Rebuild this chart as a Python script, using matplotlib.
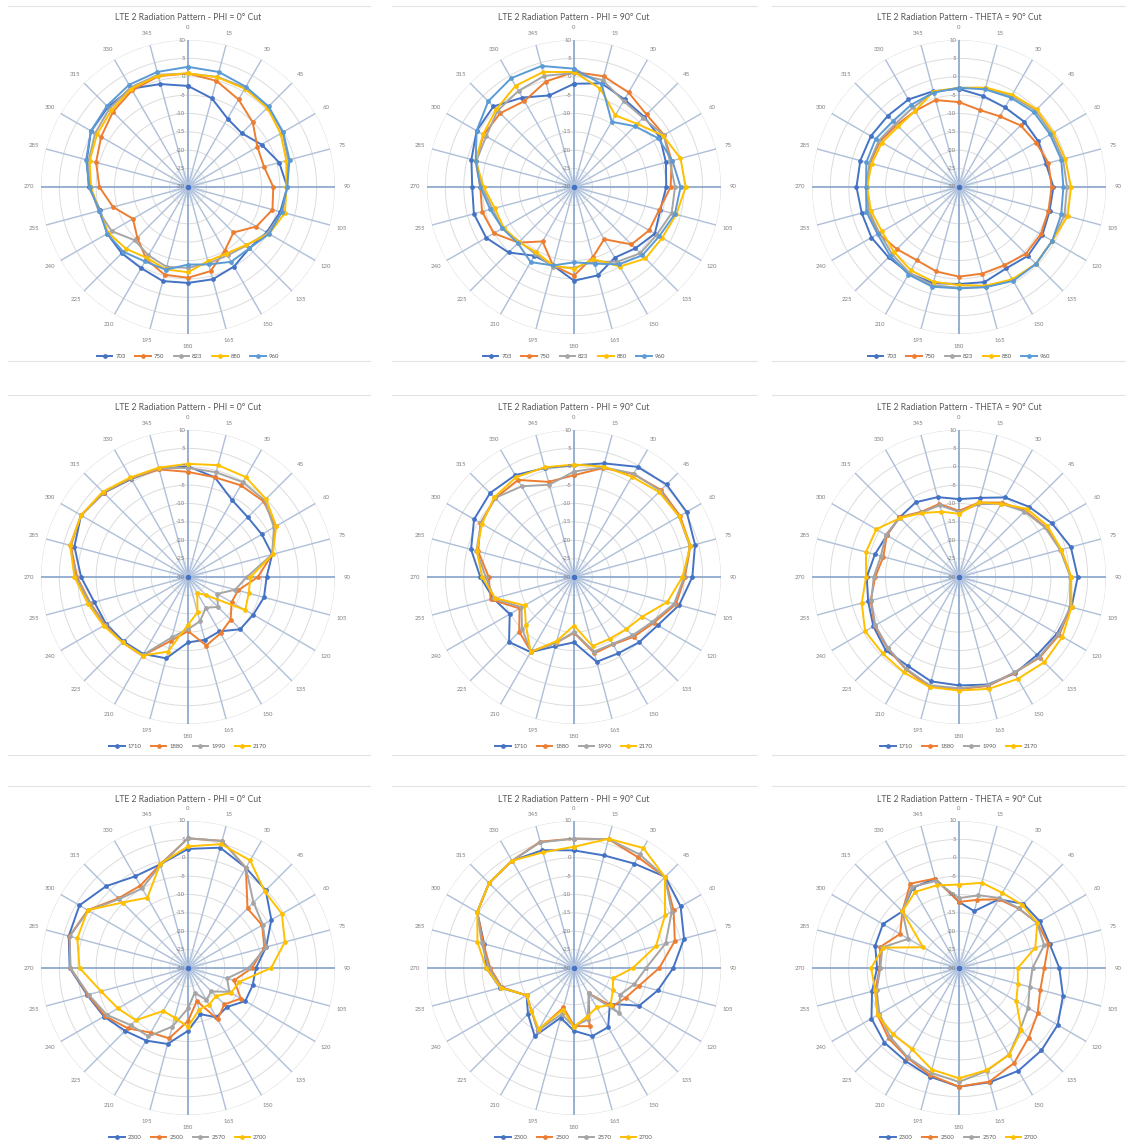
import numpy as np
import matplotlib.pyplot as plt
from matplotlib.lines import Line2D

plt.rcParams['font.family'] = ['Lato', 'DejaVu Sans']

# ---- data (dB, one value per 15 degrees, 0..345) ----
angles = list(range(0, 360, 15))
ring_values = [-30, -25, -20, -15, -10, -5, 0, 5, 10]
ring_labels = ["-30", "-25", "-20", "-15", "-10", "-5", "0", "5", "10"]

bands_low = ["703", "750", "823", "880", "960"]
bands_mid = ["1710", "1880", "1990", "2170"]
bands_high = ["2300", "2500", "2570", "2700"]

titles = ["LTE 2 Radiation Pattern - PHI = 0° Cut",
          "LTE 2 Radiation Pattern - PHI = 90° Cut",
          "LTE 2 Radiation Pattern - THETA = 90° Cut"]

phi0_low = [
    [-2.5, -5.0, -8.5, -9.3, -6.9, -4.3, -3.0, -4.0, -5.3, -6.4, -5.0, -4.0,
     -3.9, -3.5, -4.5, -4.5, -4.6, -5.3, -3.0, -1.5, 0.5, 0.8, 0.9, -1.0],
    [0.9, -0.1, -2.5, -5.1, -8.2, -8.6, -6.8, -6.2, -8.5, -12.5, -10.0, -6.3,
     -5.3, -5.3, -7.3, -10.5, -12.7, -8.9, -5.9, -4.1, -2.7, -1.1, 0.4, 1.2],
    [0.9, 1.0, 1.2, 0.9, -0.3, -1.8, -3.0, -3.5, -5.0, -7.5, -8.5, -8.5,
     -8.0, -7.5, -8.5, -9.5, -6.0, -4.8, -3.4, -2.0, -0.8, 0.2, 1.3, 1.6],
    [0.9, 0.9, 0.9, 0.5, -0.9, -2.3, -3.2, -2.7, -4.5, -7.7, -9.1, -9.1,
     -6.8, -6.8, -7.7, -6.2, -5.0, -5.0, -3.6, -2.3, -1.4, -0.5, 0.9, 1.4],
    [2.7, 2.4, 1.5, 1.0, -0.1, -1.4, -3.0, -3.6, -4.5, -6.4, -6.5, -8.2,
     -8.9, -6.7, -6.6, -5.1, -4.6, -5.0, -3.2, -1.3, 0.5, 1.2, 2.1, 2.4],
]
phi90_low = [
    [-1.9, -0.8, -2.5, -3.0, -3.0, -4.1, -4.9, -5.7, -4.6, -6.4, -7.8, -5.1,
     -4.5, -7.9, -8.4, -4.8, -2.4, -1.8, -2.3, -1.1, 0.6, 1.0, -1.9, -4.2],
    [1.3, 1.2, -0.3, -2.1, -1.7, -2.5, -3.7, -6.0, -6.4, -7.9, -13.6, -10.2,
     -5.9, -7.9, -12.9, -8.6, -4.8, -4.1, -4.5, -2.3, -1.6, -1.6, -3.0, -0.3],
    [1.0, 0.1, -3.0, -3.4, -1.8, -3.0, -2.5, -2.5, -4.0, -4.5, -6.5, -9.0,
     -8.0, -7.5, -9.0, -9.0, -7.5, -7.0, -5.0, -2.5, -2.4, -0.6, 0.2, 1.3],
    [1.3, -2.3, -7.5, -5.7, -2.0, 0.0, 0.4, -1.2, -2.3, -2.5, -5.0, -9.7,
     -7.7, -7.9, -9.5, -8.8, -7.9, -7.7, -5.4, -2.3, -1.4, -0.1, 1.8, 2.4],
    [2.2, -1.0, -9.5, -6.6, -3.5, -2.3, -1.0, -1.6, -3.2, -3.7, -5.7, -8.4,
     -9.5, -7.9, -6.4, -8.4, -7.5, -6.4, -4.5, -2.3, 0.6, 3.0, 4.2, 4.1],
]
theta90_low = [
    [-3.3, -4.4, -5.0, -4.9, -5.1, -5.5, -4.3, -4.5, -3.8, -3.5, -4.4, -3.2,
     -3.6, -2.9, -2.9, -2.9, -2.5, -2.6, -2.1, -2.2, -2.3, -2.6, -2.5, -3.0],
    [-6.9, -8.3, -7.8, -6.3, -5.8, -4.8, -4.8, -4.8, -4.3, -4.3, -5.4, -5.6,
     -5.6, -6.2, -7.0, -6.1, -4.7, -4.5, -5.0, -4.9, -5.2, -6.1, -6.1, -5.5],
    [-3.0, -2.2, -1.4, -0.6, -0.9, -0.7, -0.6, -0.3, -0.7, -0.4, -0.8, -1.8,
     -2.6, -2.3, -3.0, -4.2, -5.0, -4.6, -4.9, -4.7, -4.8, -5.6, -5.0, -3.3],
    [-3.0, -2.0, -1.0, -0.1, -0.4, -0.1, 0.5, 0.6, -0.7, -0.4, -1.0, -2.2,
     -3.3, -3.3, -3.8, -5.0, -5.8, -5.2, -5.0, -5.4, -5.8, -6.7, -6.1, -3.1],
    [-3.0, -2.5, -1.9, -1.2, -1.4, -1.2, -1.6, -1.2, -0.7, -0.4, -0.5, -1.8,
     -2.4, -1.9, -2.5, -3.5, -4.4, -3.9, -4.7, -3.9, -3.8, -4.6, -4.1, -3.4],
]

phi0_mid = [
    [0.1, -1.9, -5.9, -7.0, -6.8, -6.3, -8.6, -8.6, -9.5, -9.9, -12.9, -12.3,
     -12.2, -7.1, -5.8, -5.2, -4.3, -3.6, -0.9, 2.0, 3.6, 2.4, 0.8, 0.5],
    [-1.4, -1.9, -1.2, -0.9, -2.5, -6.3, -11.0, -15.9, -16.3, -13.6, -12.3, -10.7,
     -15.3, -12.0, -5.3, -4.8, -4.0, -2.5, 0.2, 3.0, 3.6, 2.5, 1.0, 0.3],
    [-0.3, -0.5, -0.2, -0.5, -3.0, -6.3, -14.0, -16.7, -20.8, -18.5, -20.3, -17.5,
     -15.8, -13.0, -5.5, -4.8, -3.8, -2.3, 0.5, 3.2, 3.6, 2.6, 1.1, 0.6],
    [0.8, 1.5, 1.4, 0.0, -2.3, -6.1, -13.0, -12.9, -12.0, -23.0, -25.0, -20.0,
     -17.0, -9.0, -5.3, -4.8, -3.5, -1.8, 0.9, 3.2, 3.6, 2.8, 1.3, 0.8],
]
phi90_mid = [
    [0.4, 2.0, 4.6, 5.6, 5.4, 4.1, 2.2, -0.4, -3.7, -4.9, -6.0, -6.1,
     -12.2, -10.5, -6.4, -5.0, -9.8, -7.3, -4.5, -1.0, 1.4, 2.3, 2.0, 0.7],
    [-2.3, 0.7, 2.3, 3.5, 3.3, 2.8, 0.2, -1.3, -5.0, -7.0, -8.8, -8.5,
     -14.8, -11.5, -6.6, -8.9, -12.9, -6.5, -6.8, -3.0, -0.6, 0.3, 0.5, -3.2],
    [-1.3, 0.9, 2.5, 3.2, 3.0, 2.6, 0.0, -1.8, -5.5, -7.5, -9.0, -9.0,
     -15.0, -11.5, -6.6, -10.0, -13.5, -7.5, -6.0, -2.5, -0.8, 0.4, -1.5, -4.0],
    [0.6, 1.1, 1.5, 2.7, 3.0, 2.8, -0.5, -3.7, -8.5, -9.9, -10.6, -10.5,
     -16.8, -12.0, -6.4, -11.5, -14.5, -7.8, -5.0, -2.6, -1.1, 0.7, 1.4, 0.9],
]
theta90_mid = [
    [-8.8, -7.7, -5.0, -3.0, -0.8, 1.5, 2.3, 1.7, 0.8, 0.0, 0.3, 0.3,
     -0.5, -0.6, -2.1, -1.8, -3.1, -4.4, -4.9, -6.3, -7.3, -7.1, -6.5, -7.5],
    [-12.0, -9.0, -6.6, -4.5, -2.8, -1.2, 0.5, 1.5, 1.5, 1.0, 0.1, 0.7,
     0.5, 0.9, -1.0, -2.5, -3.5, -5.1, -7.2, -8.7, -7.3, -7.0, -9.5, -9.4],
    [-12.3, -9.5, -7.0, -4.8, -3.0, -1.5, 0.3, 1.3, 1.2, 0.8, 0.0, 0.5,
     0.3, 0.6, -1.2, -2.7, -3.7, -5.3, -6.8, -8.0, -7.0, -7.2, -9.7, -9.8],
    [-12.8, -9.0, -7.0, -3.8, -2.2, -1.2, 0.5, 1.7, 2.5, 2.8, 2.0, 1.5,
     0.9, 1.0, 0.0, -0.6, -0.5, -2.6, -4.7, -3.8, -4.0, -7.3, -9.9, -11.6],
]

phi0_high = [
    [2.4, 3.9, 1.5, -0.1, -3.8, -8.0, -11.5, -11.8, -12.0, -15.0, -14.5, -17.0,
     -12.9, -8.6, -7.2, -5.8, -3.6, -1.6, 2.2, 3.6, 4.1, 1.5, -1.2, -0.8],
    [5.3, 5.8, 1.5, -7.1, -6.7, -8.5, -12.6, -17.0, -13.4, -16.0, -13.9, -20.7,
     -15.6, -10.2, -9.7, -6.8, -3.9, -1.8, 2.0, 3.4, 1.5, -3.2, -4.1, -0.8],
    [5.3, 5.8, 1.5, -4.8, -6.5, -8.0, -13.5, -19.0, -17.0, -21.0, -20.0, -23.0,
     -19.0, -13.5, -8.5, -8.0, -4.5, -2.0, 2.0, 3.3, 1.3, -3.5, -5.0, -1.0],
    [3.1, 4.9, 3.8, -0.5, -0.5, -2.7, -7.4, -15.5, -16.5, -19.2, -18.5, -18.3,
     -14.0, -16.0, -16.5, -9.9, -8.0, -5.5, -0.5, 1.2, 1.5, -4.8, -7.9, -0.7],
]
phi90_high = [
    [2.0, 1.7, 2.8, 5.1, 3.5, 1.0, -3.0, -6.4, -9.5, -16.2, -11.4, -10.8,
     -12.9, -16.0, -8.6, -12.3, -15.1, -9.2, -6.1, -4.7, 0.4, 2.7, 3.7, 3.2],
    [5.2, 6.3, 4.8, 5.0, 1.3, -1.6, -6.8, -11.6, -13.8, -15.2, -22.0, -13.6,
     -14.2, -18.9, -10.3, -13.6, -15.1, -9.7, -7.2, -4.5, 0.4, 2.7, 3.7, 5.6],
    [5.2, 6.3, 5.7, 5.0, 0.7, -4.2, -10.4, -13.0, -15.5, -12.6, -22.0, -15.6,
     -14.0, -17.0, -10.3, -13.6, -15.1, -9.5, -6.8, -4.0, 0.4, 2.7, 3.7, 5.4],
    [3.0, 6.4, 7.7, 5.0, -1.4, -6.9, -14.0, -19.0, -17.8, -15.9, -17.6, -16.3,
     -14.0, -18.3, -10.8, -13.6, -15.1, -9.3, -6.1, -2.8, 0.4, 2.7, 3.7, 2.6],
]
theta90_high = [
    [-12.0, -14.0, -8.4, -5.3, -4.6, -4.5, -2.7, -0.7, 1.0, 1.7, 2.3, 2.2,
     2.3, 0.6, -0.8, -1.3, -2.5, -5.5, -7.7, -6.4, -6.1, -8.2, -4.8, -4.8],
    [-12.0, -10.8, -8.4, -7.1, -5.4, -4.8, -6.8, -7.1, -5.3, -3.2, -0.1, 2.0,
     2.3, 0.2, -1.8, -2.9, -4.4, -6.4, -8.4, -7.8, -11.5, -8.2, -3.5, -4.8],
    [-11.0, -9.5, -8.0, -7.0, -5.5, -6.0, -10.0, -10.1, -8.3, -6.4, -2.8, -1.0,
     1.0, -0.5, -2.0, -3.5, -5.0, -6.8, -8.6, -8.4, -14.1, -8.2, -4.5, -5.5],
    [-7.3, -6.0, -6.4, -5.7, -5.4, -8.5, -14.0, -13.4, -12.0, -6.0, -2.7, -1.2,
     0.0, -1.4, -4.5, -4.5, -4.4, -6.4, -6.1, -8.6, -18.7, -8.2, -6.1, -6.7],
]

colors = ["#4472C4", "#ED7D31", "#A5A5A5", "#FFC000", "#5B9BD5"]

W, H = 1132, 1144
fig = plt.figure(figsize=(W / 100, H / 100), dpi=100)
fig.patch.set_facecolor('white')

R = 147
col_x = [188, 574, 959]
row_y = [187, 577, 968]


def radar(cx, cy, title, bands, series):
    ax = fig.add_axes([(cx - R) / W, 1 - (cy + R) / H, 2 * R / W, 2 * R / H],
                      projection='polar')
    ax.set_theta_zero_location('N')
    ax.set_theta_direction(-1)
    ax.set_ylim(-30, 10)
    ax.grid(False)
    ax.set_xticks([])
    ax.set_yticks([])
    ax.spines['polar'].set_visible(False)
    ax.patch.set_alpha(0)

    t = np.linspace(0, 2 * np.pi, 361)
    for r in ring_values[1:]:
        ax.plot(t, np.full_like(t, r), color='#DCDCDC', lw=0.7, zorder=1)
    for a in angles:
        main = a % 90 == 0
        ax.plot([np.radians(a)] * 2, [-30, 10.8 if main else 10],
                color='#8FA9CF' if main else '#AEBFD8',
                lw=1.3 if main else 1.0, zorder=2)
    # fine sunburst at the centre
    for a in range(0, 360, 10):
        ax.plot([np.radians(a)] * 2, [-30, -25.5], color='#B4C6E4', lw=0.3,
                zorder=2)
    ax.plot([0], [-30], 'o', color='#4472C4', ms=3.0, zorder=3)

    th = np.radians(angles + [angles[0]])
    for vals, col, lab in zip(series, colors, bands):
        ax.plot(th, vals + [vals[0]], color=col, lw=1.4, marker='o', ms=2.4,
                label=lab, zorder=4, clip_on=False)

    for a in angles:
        ax.text(np.radians(a), 13.3, str(a), ha='center', va='center',
                fontsize=4.3, color='#7F7F7F')
    for r, lab in zip(ring_values, ring_labels):
        ax.annotate(lab, xy=(0, r), xytext=(-2, 0), textcoords='offset points',
                    ha='right', va='center', fontsize=4.3, color='#7F7F7F',
                    zorder=5)

    fig.text(cx / W, 1 - (cy - 169) / H, title, ha='center', va='center',
             fontsize=6.2, color='#595959')
    handles = [Line2D([], [], color=c, lw=1.4, marker='o', ms=2.4)
               for c in colors[:len(bands)]]
    fig.legend(handles, bands, loc='center',
               bbox_to_anchor=(cx / W, 1 - (cy + 169) / H),
               ncol=len(bands), frameon=False, fontsize=4.3,
               handlelength=2.6, handletextpad=0.5, columnspacing=1.6,
               labelcolor='#595959')


charts = [
    [phi0_low, phi90_low, theta90_low],
    [phi0_mid, phi90_mid, theta90_mid],
    [phi0_high, phi90_high, theta90_high],
]
band_rows = [bands_low, bands_mid, bands_high]

for i, cy in enumerate(row_y):
    for j, cx in enumerate(col_x):
        radar(cx, cy, titles[j], band_rows[i], charts[i][j])

# thin chart borders between rows
for y in [6, 361, 395, 755, 786]:
    for x0, x1 in [(8, 370), (392, 757), (772, 1125)]:
        fig.add_artist(Line2D([x0 / W, x1 / W], [1 - y / H, 1 - y / H],
                              transform=fig.transFigure, color='#E3E3E3',
                              lw=0.8))

fig.savefig('out.png', dpi=100)
